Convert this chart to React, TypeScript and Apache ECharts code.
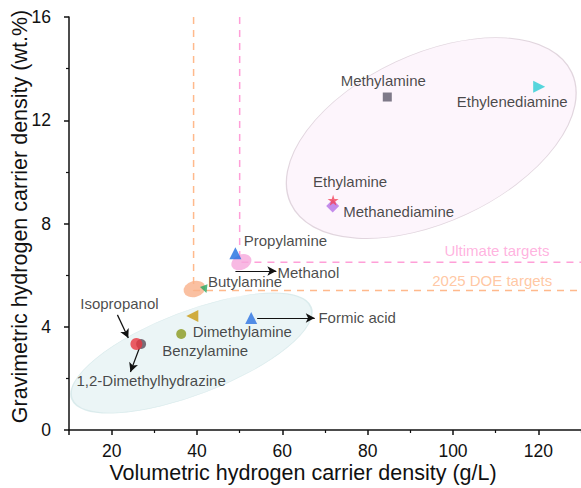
import React, { useEffect, useRef } from "react";
import * as echarts from "echarts";

// ---- data ----
const carrierNames = [
  "Methylamine",
  "Ethylenediamine",
  "Ethylamine",
  "Methanediamine",
  "Propylamine",
  "Methanol",
  "Butylamine",
  "",
  "Dimethylamine",
  "Benzylamine",
  "Formic acid",
  "Isopropanol",
  "1,2-Dimethylhydrazine",
];
const volumetric = [84.6, 120.2, 71.9, 71.8, 49.0, 50.4, 41.9, 39.4, 38.9, 36.3, 52.7, 25.8, 26.9];
const gravimetric = [12.9, 13.3, 8.9, 8.68, 6.85, 6.5, 5.45, 5.46, 4.42, 3.72, 4.34, 3.33, 3.33];

// target lines: [volumetric g/L, gravimetric wt.%]
const ultimateTarget = [50, 6.5];
const doeTarget = [39.2, 5.4];

// shaded regions: centre (volumetric, gravimetric)
const regionNames = ["amines group", "low density group"];
const regionCentreX = [94.9, 38.7];
const regionCentreY = [11.31, 2.98];

// annotation arrows: [x1, y1, x2, y2]
const arrowNames = ["Methanol", "Formic acid", "Isopropanol", "1,2-Dimethylhydrazine"];
const arrows = [
  [49.0, 6.16, 58.6, 6.16],
  [54.1, 4.34, 67.6, 4.34],
  [21.35, 4.46, 23.9, 3.56],
  [26.5, 3.18, 24.4, 2.25],
];

const targetLabelText = ["Ultimate targets", "2025 DOE targets"];
const targetLabelX = [110.3, 109.2];
const targetLabelY = [6.97, 5.81];

const xMajorTicks = [10, 20, 40, 60, 80, 100, 120];
const xTickLabels = [20, 40, 60, 80, 100, 120];
const xMinorTicks = [30, 50, 70, 90, 110, 130];

// ---- styles ----
const ELLIPSE = "path://M0,50A50,50,0,1,1,100,50A50,50,0,1,1,0,50Z";
const STAR =
  "path://M50,0L61.8,35.1L98.9,35.1L69.1,56.7L80.3,91.9L50,70.2L19.7,91.9L30.9,56.7L1.1,35.1L38.2,35.1Z";

const markerStyles: any[] = [
  { symbol: "rect", size: 9, rotate: 0, color: "#5e5a6a", off: [-4, -17] },
  { symbol: "triangle", size: 12, rotate: -90, color: "#2ccdd3", off: [-27, 15] },
  { symbol: STAR, size: 11, rotate: 0, color: "#f2435a", off: [17, -19] },
  { symbol: "diamond", size: 13, rotate: 0, color: "#b572e6", off: [66, 6] },
  { symbol: "triangle", size: 12, rotate: 0, color: "#1e6ee0", off: [50, -13] },
  { symbol: ELLIPSE, size: [21, 15], rotate: 25, color: "#f6a8dc", off: [67, 10] },
  { symbol: "triangle", size: 8, rotate: 200, color: "#27a862", off: [40, -8] },
  { symbol: ELLIPSE, size: [22, 16], rotate: 15, color: "#f9b08a", off: [0, 0] },
  { symbol: "triangle", size: 12, rotate: 90, color: "#c99a10", off: [50, 16] },
  { symbol: "circle", size: 10, rotate: 0, color: "#8b9a1e", off: [24, 17] },
  { symbol: "triangle", size: 12, rotate: 0, color: "#2a72e2", off: [106, 0] },
  { symbol: "circle", size: 12, rotate: 0, color: "#e8343f", off: [-17, -41] },
  { symbol: "circle", size: 10, rotate: 0, color: "#5a4b57", off: [10, 36] },
];
// draw order tweak: 1,2-DMH behind Isopropanol
const drawOrder = [0, 1, 3, 2, 5, 4, 7, 6, 8, 9, 10, 12, 11];

const regionStyles = [
  { size: [310, 168], rotate: 25, fill: "#fcf2fb", border: "#d9ccd6" },
  { size: [256, 83], rotate: 21, fill: "#e6f3f4", border: "#d3e7e8" },
];

const FONT = "'Liberation Sans', Arial, sans-serif";
const LABEL_SIZE = 15;

export default function App() {
  const ref = useRef<HTMLDivElement>(null);
  useEffect(() => {
    if (!ref.current) return;
    const chart = echarts.init(ref.current, undefined, { renderer: "svg" });

    const points = drawOrder.map((i) => {
      const s = markerStyles[i];
      return {
        name: carrierNames[i],
        value: [volumetric[i], gravimetric[i]],
        symbol: s.symbol,
        symbolSize: s.size,
        symbolRotate: s.rotate,
        itemStyle: { color: s.color },
        label: {
          show: carrierNames[i] !== "",
          position: "inside",
          offset: s.off,
          formatter: carrierNames[i],
          color: "#1a1a1a",
          fontSize: LABEL_SIZE,
          fontFamily: FONT,
        },
      };
    });

    const regions = regionNames.map((n, i) => ({
      name: n,
      value: [regionCentreX[i], regionCentreY[i]],
      symbol: ELLIPSE,
      symbolSize: regionStyles[i].size,
      symbolRotate: regionStyles[i].rotate,
      itemStyle: {
        color: regionStyles[i].fill,
        borderColor: regionStyles[i].border,
        borderWidth: 1,
      },
    }));

    const targetColors = ["#ff9fd8", "#ffb98c"];

    const option: any = {
      animation: false,
      textStyle: { fontFamily: FONT },
      grid: { left: 69, right: 0, top: 17, bottom: 58, containLabel: false, outerBoundsMode: "none" },
      xAxis: [
        {
          type: "value",
          min: 10,
          max: 130,
          interval: 10,
          name: "Volumetric hydrogen carrier density (g/L)",
          nameLocation: "middle",
          nameGap: 32,
          nameMoveOverlap: false,
          nameTextStyle: { fontSize: 21.5, color: "#111", fontFamily: FONT, padding: [0, 44, 0, 0] },
          axisLine: { show: true, lineStyle: { color: "#111", width: 1.5 } },
          axisTick: { show: true, length: 5, customValues: xMajorTicks, lineStyle: { color: "#111", width: 1.5 } },
          axisLabel: {
            show: true,
            customValues: xTickLabels,
            fontSize: 17.5,
            color: "#111",
            margin: 12,
            fontFamily: FONT,
          },
          splitLine: { show: false },
        },
        {
          type: "value",
          min: 10,
          max: 130,
          interval: 10,
          position: "bottom",
          axisLine: { show: false },
          axisTick: { show: true, length: 3, customValues: xMinorTicks, lineStyle: { color: "#111", width: 1.2 } },
          axisLabel: { show: false },
          splitLine: { show: false },
        },
      ],
      yAxis: {
        type: "value",
        min: 0,
        max: 16,
        interval: 4,
        name: "Gravimetric hydrogen carrier density (wt.%)",
        nameLocation: "middle",
        nameGap: 38,
        nameMoveOverlap: false,
        nameTextStyle: { fontSize: 21.5, color: "#111", fontFamily: FONT, padding: [0, 0, 0, 14] },
        axisLine: { show: true, lineStyle: { color: "#111", width: 1.5 } },
        axisTick: { show: true, length: 5, lineStyle: { color: "#111", width: 1.5 } },
        minorTick: { show: true, splitNumber: 2, length: 3, lineStyle: { color: "#111", width: 1.2 } },
        axisLabel: { fontSize: 17.5, color: "#111", margin: 18, fontFamily: FONT },
        splitLine: { show: false },
      },
      series: [
        {
          type: "scatter",
          name: "regions",
          z: 1,
          data: regions,
          silent: true,
        },
        {
          type: "line",
          name: "Ultimate targets",
          z: 2,
          symbol: "none",
          data: [
            [ultimateTarget[0], 16],
            [ultimateTarget[0], ultimateTarget[1]],
            [130, ultimateTarget[1]],
          ],
          lineStyle: { color: targetColors[0], width: 1.5, type: [7, 6] },
        },
        {
          type: "line",
          name: "2025 DOE targets",
          z: 2,
          symbol: "none",
          data: [
            [doeTarget[0], 16],
            [doeTarget[0], doeTarget[1]],
            [130, doeTarget[1]],
          ],
          lineStyle: { color: targetColors[1], width: 1.5, type: [7, 6] },
        },
        {
          type: "scatter",
          name: "target labels",
          z: 3,
          symbolSize: 0,
          data: targetLabelText.map((t, i) => ({
            name: t,
            value: [targetLabelX[i], targetLabelY[i]],
            label: {
              show: true,
              position: "inside",
              formatter: t,
              fontSize: LABEL_SIZE,
              fontFamily: FONT,
              color: targetColors[i],
            },
          })),
        },
        {
          type: "scatter",
          name: "carriers",
          z: 5,
          data: points,
          markLine: {
            silent: true,
            symbol: ["none", "arrow"],
            symbolSize: [7, 9],
            label: { show: false },
            lineStyle: { color: "#111", width: 1.2, type: "solid" },
            data: arrows.map((a, i) => [
              { name: arrowNames[i], coord: [a[0], a[1]] },
              { coord: [a[2], a[3]] },
            ]),
          },
        },
      ],
    };

    chart.setOption(option);
    return () => chart.dispose();
  }, []);
  return (
    <div
      ref={ref}
      style={{ position: "fixed", left: 0, top: 0, width: 581, height: 488, background: "#fff" }}
    />
  );
}
